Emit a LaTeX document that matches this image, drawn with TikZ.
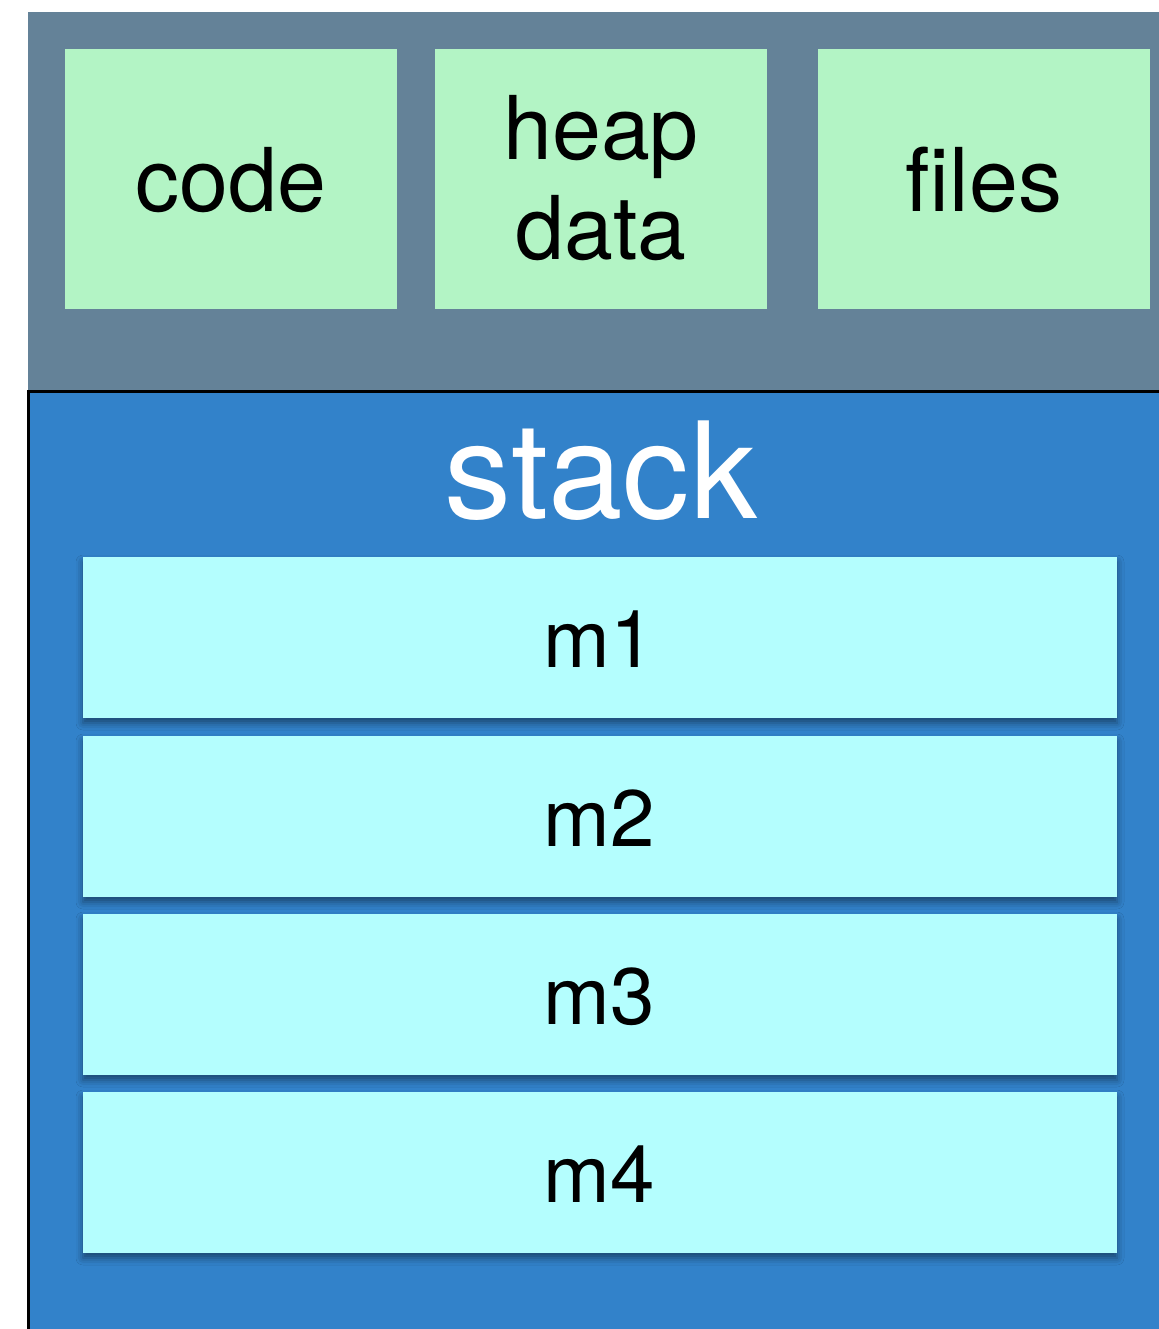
\documentclass[tikz,border=0pt]{standalone}
\usepackage{fontspec}
\setmainfont{TeX Gyre Heros}
\usetikzlibrary{shadows.blur}
\definecolor{procgray}{HTML}{648298}
\definecolor{segreen}{HTML}{B3F4C5}
\definecolor{stackblue}{HTML}{3282CA}
\definecolor{framecyan}{HTML}{B4FEFE}
\tikzset{
  segbox/.style={fill=segreen, draw=none},
  framebox/.style={fill=framecyan, draw=none, blur shadow={shadow xshift=0pt, shadow yshift=-5pt, shadow blur radius=7pt, shadow opacity=45}},
  segtext/.style={font=\fontsize{88}{100}\selectfont, text=black, anchor=base, inner sep=0pt, align=center},
  frametext/.style={font=\fontsize{80}{90}\selectfont, text=black, anchor=base, inner sep=0pt},
  stacktext/.style={font=\fontsize{134}{140}\selectfont, text=white, anchor=base, inner sep=0pt}
}
\begin{document}
\begin{tikzpicture}[x=1pt,y=-1pt]
\useasboundingbox (0,0) rectangle (1158,1329);
\fill[white] (0,0) rectangle (1158,1329);
% process area
\fill[procgray] (28,12) rectangle (1170,392) coordinate (procend);
% stack area
\draw[fill=stackblue, draw=black, line width=3pt] (28,391) rectangle (1175,1345);
% segment boxes
\path[segbox] (65,49) rectangle (397,309) coordinate (codebox);
\path[segbox] (435,49) rectangle (767,309) coordinate (heapbox);
\path[segbox] (818,49) rectangle (1150,309) coordinate (filesbox);
\node[segtext] (code) at (231,212) {code};
\node[segtext] (heap) at (601,160) {heap};
\node[segtext] (data) at (601,260) {data};
\node[segtext] (files) at (984,212) {files};
% stack title
\node[stacktext] (stack) at (601,518) {stack};
% frames
\path[framebox] (83,557) rectangle (1117,718) coordinate (f1);
\path[framebox] (83,736) rectangle (1117,897) coordinate (f2);
\path[framebox] (83,914) rectangle (1117,1075) coordinate (f3);
\path[framebox] (83,1092) rectangle (1117,1253) coordinate (f4);
\node[frametext] (m1) at (599,667) {m1};
\node[frametext] (m2) at (599,846) {m2};
\node[frametext] (m3) at (599,1024) {m3};
\node[frametext] (m4) at (599,1202) {m4};
\end{tikzpicture}
\end{document}
